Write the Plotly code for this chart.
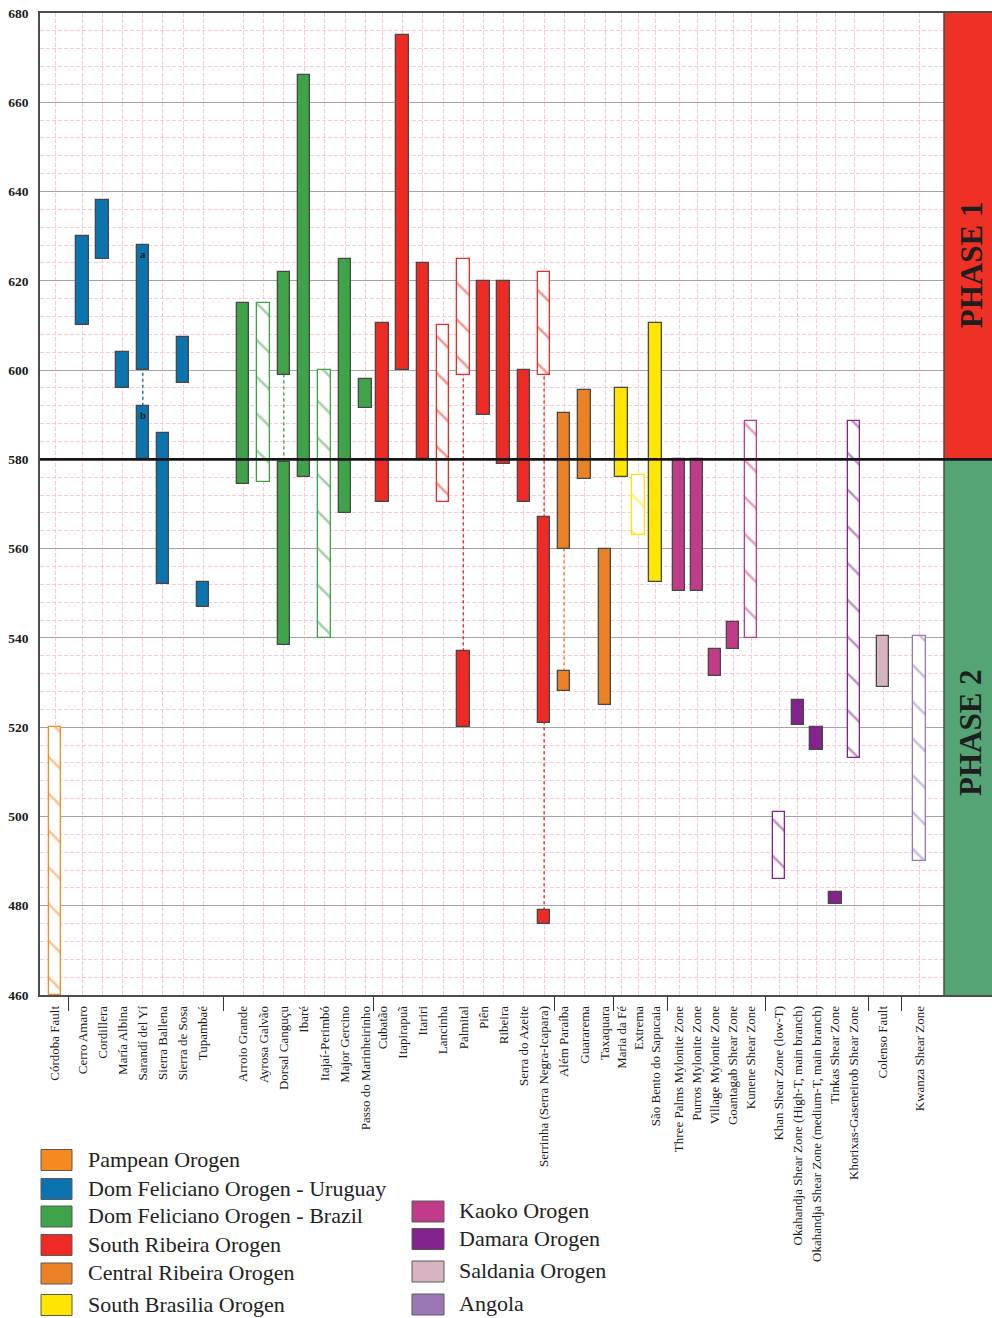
import plotly.graph_objects as go

# ---------------------------------------------------------------- data
GROUPS = [
    "Pampean Orogen",
    "Dom Feliciano Orogen - Uruguay",
    "Dom Feliciano Orogen - Brazil",
    "South Ribeira Orogen",
    "Central Ribeira Orogen",
    "South Brasilia Orogen",
    "Kaoko Orogen",
    "Damara Orogen",
    "Saldania Orogen",
    "Angola",
]

CATEGORIES = [
    "Córdoba Fault",
    "Cerro Amaro", "Cordillera", "María Albina", "Sarandí del Yí",
    "Sierra Ballena", "Sierra de Sosa", "Tupambaé",
    "Arroio Grande", "Ayrosa Galvão", "Dorsal Canguçu", "Ibaré",
    "Itajaí-Perimbó", "Major Gercino", "Passo do Marinheirinho",
    "Cubatão", "Itapirapuã", "Itariri", "Lancinha", "Palmital", "Piên",
    "Ribeira", "Serra do Azeite", "Serrinha (Serra Negra-Icapara)",
    "Além Paraíba", "Guararema", "Taxaquara",
    "Maria da Fé", "Extrema", "São Bento do Sapucaia",
    "Three Palms Mylonite Zone", "Purros Mylonite Zone",
    "Village Mylonite Zone", "Goantagab Shear Zone", "Kunene Shear Zone",
    "Khan Shear Zone (low-T)", "Okahandja Shear Zone (High-T, main branch)",
    "Okahandja Shear Zone (medium-T, main branch)", "Tinkas Shear Zone",
    "Khorixas-Gaseneirob Shear Zone",
    "Colenso Fault",
    "Kwanza Shear Zone",
]
CATEGORY_GROUP = [0] + [1] * 7 + [2] * 7 + [3] * 9 + [4] * 3 + [5] * 3 + [6] * 5 + [7] * 5 + [8] + [9]

# one entry per age interval (Ma)
BAR_CATEGORY = [
    "Córdoba Fault",
    "Cerro Amaro", "Cordillera", "María Albina",
    "Sarandí del Yí", "Sarandí del Yí",
    "Sierra Ballena", "Sierra de Sosa", "Tupambaé",
    "Arroio Grande", "Ayrosa Galvão",
    "Dorsal Canguçu", "Dorsal Canguçu",
    "Ibaré", "Itajaí-Perimbó", "Major Gercino", "Passo do Marinheirinho",
    "Cubatão", "Itapirapuã", "Itariri", "Lancinha",
    "Palmital", "Palmital",
    "Piên", "Ribeira", "Serra do Azeite",
    "Serrinha (Serra Negra-Icapara)", "Serrinha (Serra Negra-Icapara)",
    "Serrinha (Serra Negra-Icapara)",
    "Além Paraíba", "Além Paraíba",
    "Guararema", "Taxaquara",
    "Maria da Fé", "Extrema", "São Bento do Sapucaia",
    "Three Palms Mylonite Zone", "Purros Mylonite Zone",
    "Village Mylonite Zone", "Goantagab Shear Zone", "Kunene Shear Zone",
    "Khan Shear Zone (low-T)", "Okahandja Shear Zone (High-T, main branch)",
    "Okahandja Shear Zone (medium-T, main branch)", "Tinkas Shear Zone",
    "Khorixas-Gaseneirob Shear Zone",
    "Colenso Fault",
    "Kwanza Shear Zone",
]
BAR_YOUNG = [
    460,
    610, 625, 596,
    600, 580,
    552, 597, 547,
    574.5, 575,
    599, 538.5,
    576, 540, 568, 591.5,
    570.5, 600, 580, 570.5,
    599, 520,
    590, 579, 570.5,
    599, 521, 476,
    560, 528,
    575.5, 525,
    576, 563, 552.5,
    550.5, 550.5,
    531.5, 537.5, 540,
    486, 520.5,
    515, 480.5,
    513,
    529,
    490,
]
BAR_OLD = [
    520,
    630, 638, 604,
    628, 592,
    586, 607.5, 552.5,
    615, 615,
    622, 579.5,
    666, 600, 625, 598,
    610.5, 675, 624, 610,
    625, 537,
    620, 620, 600,
    622, 567, 479,
    590.5, 532.5,
    595.5, 560,
    596, 576.5, 610.5,
    580, 580,
    537.5, 543.5, 588.5,
    501, 526,
    520, 483,
    588.5,
    540.5,
    540.5,
]
BAR_HATCHED = [
    True,
    False, False, False,
    False, False,
    False, False, False,
    False, True,
    False, False,
    False, True, False, False,
    False, False, False, True,
    True, False,
    False, False, False,
    True, False, False,
    False, False,
    False, False,
    False, True, False,
    False, False,
    False, False, True,
    True, False,
    False, False,
    True,
    False,
    True,
]
BAR_NOTE = [""] * 4 + ["a", "b"] + [""] * (len(BAR_CATEGORY) - 6)

Y_TICKS = list(range(460, 681, 20))
PHASES = [("PHASE 1", 580, 680), ("PHASE 2", 460, 580)]

# ---------------------------------------------------------------- styling
FONT = "Liberation Serif"
GROUP_COLORS = ["#f58a21", "#0b73ad", "#3fa34a", "#ee2a24", "#ea8126",
                "#ffe600", "#c13c88", "#84238d", "#d6b4c2", "#9b77b6"]
PHASE_COLORS = ["#ee3124", "#55a476"]
SOLID_EDGE = "#474747"
MINOR_GRID = "#f9c9d5"

# x axis measured in pixels of the drawing area: group start and pitch
GROUP_START = [55, 82.5, 243, 382.5, 564, 621.5, 679, 779, 883, 919.5]
GROUP_PITCH = [20, 20.1, 20.4, 20.2, 20.5, 17, 18, 18.75, 20, 20]
BAR_WIDTH = 12.5
X_LEFT, X_PLOT_RIGHT, X_RIGHT = 40, 944, 992

W, H = 992, 1318
M_L, M_R, M_T, M_B = 40, 0, 13, 323

# category centres
cat_x = {}
count = [0] * len(GROUPS)
for name, g in zip(CATEGORIES, CATEGORY_GROUP):
    cat_x[name] = GROUP_START[g] + count[g] * GROUP_PITCH[g]
    count[g] += 1
cat_group = dict(zip(CATEGORIES, CATEGORY_GROUP))
tick_x = [cat_x[c] for c in CATEGORIES]

# separators between groups
boundaries = []
for g in range(len(GROUPS) - 1):
    last = max(cat_x[c] for c in CATEGORIES if cat_group[c] == g)
    first = min(cat_x[c] for c in CATEGORIES if cat_group[c] == g + 1)
    boundaries.append((last + first) / 2)

fig = go.Figure()

# bars, one trace per group and fill style
for g, gname in enumerate(GROUPS):
    for hatched in (False, True):
        idx = [i for i, c in enumerate(BAR_CATEGORY)
               if cat_group[c] == g and BAR_HATCHED[i] == hatched]
        if not idx:
            continue
        xs = [cat_x[BAR_CATEGORY[i]] for i in idx]
        base = [BAR_YOUNG[i] for i in idx]
        height = [BAR_OLD[i] - BAR_YOUNG[i] for i in idx]
        if hatched:
            marker = dict(
                color="white",
                line=dict(color=GROUP_COLORS[g], width=1.3),
                pattern=dict(shape="\\", fgcolor=GROUP_COLORS[g],
                             bgcolor="white", size=26, solidity=0.1),
            )
        else:
            marker = dict(color=GROUP_COLORS[g],
                          line=dict(color=SOLID_EDGE, width=1.3))
        fig.add_trace(go.Bar(
            x=xs, y=height, base=base, width=BAR_WIDTH, marker=marker,
            name=gname, showlegend=False, hoverinfo="skip",
        ))

shapes = []
annotations = []

# dotted links between intervals of the same locality
for cname in CATEGORIES:
    ivs = sorted((BAR_YOUNG[i], BAR_OLD[i]) for i, c in enumerate(BAR_CATEGORY) if c == cname)
    for (lo1, hi1), (lo2, hi2) in zip(ivs[:-1], ivs[1:]):
        shapes.append(dict(
            type="line", xref="x", yref="y",
            x0=cat_x[cname], x1=cat_x[cname], y0=hi1, y1=lo2,
            line=dict(color=GROUP_COLORS[cat_group[cname]], width=1.4, dash="dot"),
            layer="between",
        ))

# interval letters
for i, note in enumerate(BAR_NOTE):
    if note:
        annotations.append(dict(
            x=cat_x[BAR_CATEGORY[i]], y=BAR_OLD[i], xref="x", yref="y",
            text=note, showarrow=False, yanchor="top", yshift=-1,
            font=dict(family=FONT, size=11, color="#1b1b1b", weight="bold"),
        ))

# phase column
for (label, lo, hi), col in zip(PHASES, PHASE_COLORS):
    shapes.append(dict(type="rect", xref="x", yref="y", x0=X_PLOT_RIGHT, x1=X_RIGHT,
                       y0=lo, y1=hi, fillcolor=col, line=dict(width=0), layer="above"))
for (label, lo, hi), yc in zip(PHASES, [623.5, 518.7]):
    annotations.append(dict(
        x=(X_PLOT_RIGHT + X_RIGHT) / 2 + 3, y=yc, xref="x", yref="y", text=label,
        textangle=-90, showarrow=False,
        font=dict(family=FONT, size=31, color="#1e1e1e", weight="bold"),
    ))
shapes.append(dict(type="line", xref="x", yref="y", x0=X_PLOT_RIGHT, x1=X_PLOT_RIGHT,
                   y0=460, y1=680, line=dict(color="#4a4a4a", width=1.5), layer="above"))
shapes.append(dict(type="line", xref="x", yref="y", x0=X_LEFT, x1=X_RIGHT,
                   y0=580, y1=580, line=dict(color="#161616", width=2.6), layer="above"))

# legend, drawn in paper coordinates
def px_x(px):
    return (px - M_L) / (W - M_L - M_R)


def px_y(py):
    return (H - M_B - py) / (H - M_T - M_B)


LEGEND_LEFT_ROWS = [1160, 1189, 1216.5, 1245, 1273.5, 1305]
LEGEND_RIGHT_ROWS = [1211.5, 1239, 1271.5, 1304.5]
legend_slots = ([(41, 72, 86, y) for y in LEGEND_LEFT_ROWS] +
                [(412, 444, 457, y) for y in LEGEND_RIGHT_ROWS])
for g, (bx0, bx1, tx, yc) in enumerate(legend_slots):
    shapes.append(dict(type="rect", xref="paper", yref="paper",
                       x0=px_x(bx0), x1=px_x(bx1), y0=px_y(yc - 10.5), y1=px_y(yc + 10.5),
                       fillcolor=GROUP_COLORS[g], line=dict(color="#5a5a5a", width=1)))
    annotations.append(dict(x=px_x(tx), y=px_y(yc - 1), xref="paper", yref="paper",
                            text=GROUPS[g], showarrow=False, xanchor="left", yanchor="middle",
                            font=dict(family=FONT, size=22, color="#222222")))

fig.update_layout(
    width=W, height=H,
    margin=dict(l=M_L, r=M_R, t=M_T, b=M_B, pad=0),
    paper_bgcolor="white", plot_bgcolor="white",
    barmode="overlay", bargap=0,
    shapes=shapes, annotations=annotations,
    showlegend=False,
    font=dict(family=FONT, color="#222222"),
    xaxis=dict(
        range=[X_LEFT, X_RIGHT], tickmode="array", tickvals=tick_x, ticktext=CATEGORIES,
        tickangle=-90, ticks="", ticklabelstandoff=4,
        tickfont=dict(family=FONT, size=13, color="#1a1a1a"),
        showgrid=True, gridcolor=MINOR_GRID, griddash="4px,2px", gridwidth=1,
        showline=True, linecolor="#4d4d4d", linewidth=1.5, mirror=True,
        zeroline=False, fixedrange=True,
        minor=dict(tickmode="array", tickvals=boundaries, ticks="outside",
                   ticklen=14, tickwidth=1.3, tickcolor="#333333", showgrid=False),
    ),
    yaxis=dict(
        range=[460, 680], tickmode="array", tickvals=Y_TICKS,
        ticks="", ticklabelstandoff=7,
        tickfont=dict(family=FONT, size=13.5, color="#1a1a1a", weight="bold"),
        showgrid=True, gridcolor="#a4a4a4", gridwidth=1.3,
        minor=dict(dtick=4, showgrid=True, gridcolor=MINOR_GRID, griddash="4px,2px", gridwidth=1),
        showline=True, linecolor="#4d4d4d", linewidth=1.5,
        zeroline=False, fixedrange=True,
    ),
)

fig.write_html("out.html")
